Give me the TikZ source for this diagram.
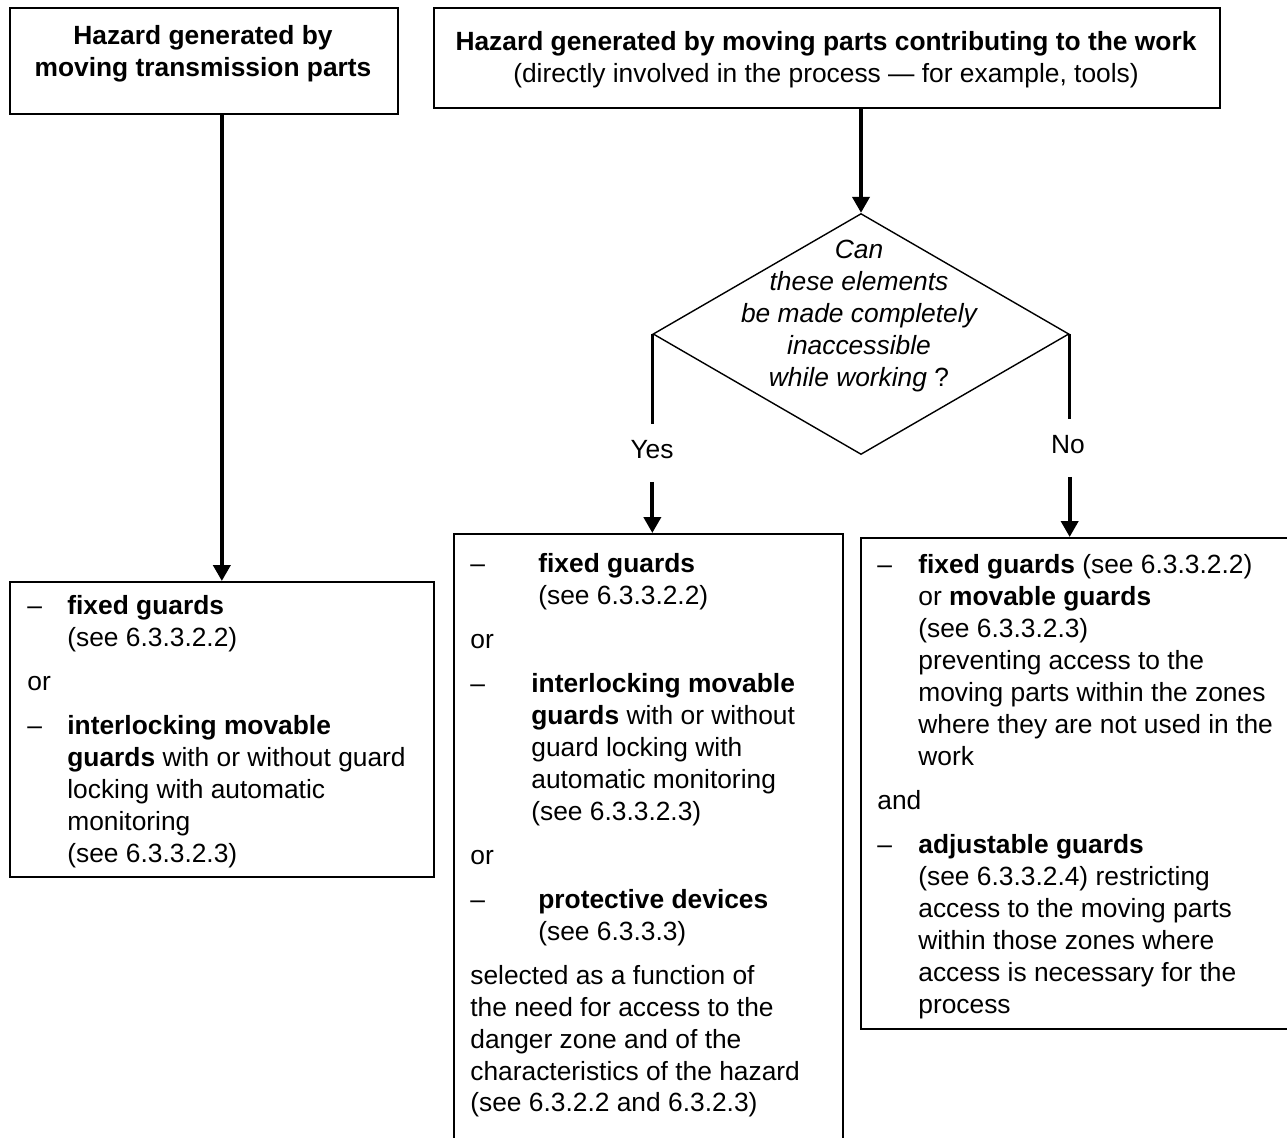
\documentclass[tikz,border=0pt]{standalone}
\usepackage{fontspec}
\setmainfont{Liberation Sans}
\usetikzlibrary{arrows.meta,shapes.geometric}
\newcommand{\bodysize}{\fontsize{15pt}{18.2pt}\selectfont}

\begin{document}
\begin{tikzpicture}[x=0.02cm,y=-0.02cm,
  box/.style={draw,line width=1pt,inner sep=0pt,anchor=north west},
  txt/.style={inner sep=0pt,font=\bodysize},
  lbl/.style={txt,anchor=base,text height=0.67cm,text depth=0.47cm},
  ques/.style={draw,diamond,line width=0.8pt,inner sep=0pt,minimum width=8.32cm,minimum height=4.82cm},
  arr/.style={-{Triangle[length=0.32cm,width=0.34cm]},line width=2.2pt},
  branch/.style={line width=1.8pt}]
\useasboundingbox (0,0) rectangle (1287,1137);
\clip (0,0) rectangle (1287,1137);
% top boxes
\node[box,minimum width=7.76cm,minimum height=2.12cm] (boxA) at (9,7) {};
\node[box,minimum width=15.72cm,minimum height=2cm] (boxB) at (433,7) {};
\node[txt,font=\bodysize\bfseries,anchor=north] (hdrA) at (203,21.6) {\begin{tabular}{@{}c@{}}Hazard generated by\\moving transmission parts\end{tabular}};
\node[txt,anchor=north] (hdrB) at (826,27.6) {\begin{tabular}{@{}c@{}}\textbf{Hazard generated by moving parts contributing to the work}\\(directly involved in the process — for example, tools)\end{tabular}};
% decision
\node[ques] (dia) at (861,334) {};
\node[txt,font=\bodysize\itshape,anchor=north] (qtext) at (859,235.6) {\begin{tabular}{@{}c@{}}Can\\these elements\\be made completely\\inaccessible\\while working\upshape~?\end{tabular}};
\node[lbl] (yes) at (652,458) {Yes};
\node[lbl] (no) at (1068,453) {No};
% result boxes
\node[box,minimum width=8.48cm,minimum height=5.9cm] (boxC) at (9,581) {};
\node[box,minimum width=7.78cm,minimum height=12.6cm] (boxD) at (453,533) {};
\node[box,minimum width=8.8cm,minimum height=9.82cm] (boxE) at (860,537) {};
\node[txt,anchor=north west] (listC) at (27,591.6) {\begin{tabular}{@{}p{0.8cm}@{}l@{}}
–&\textbf{fixed guards}\\
&(see 6.3.3.2.2)\\[0.24cm]
\multicolumn{2}{@{}l}{or}\\[0.24cm]
–&\textbf{interlocking movable}\\
&\textbf{guards} with or without guard\\
&locking with automatic\\
&monitoring\\
&(see 6.3.3.2.3)
\end{tabular}};
\node[txt,anchor=north west] (listD) at (470,549.6) {\begin{tabular}{@{}p{1.22cm}@{}l@{}}
–&\hspace{0.14cm}\textbf{fixed guards}\\
&\hspace{0.14cm}(see 6.3.3.2.2)\\[0.24cm]
\multicolumn{2}{@{}l}{or}\\[0.24cm]
–&\textbf{interlocking movable}\\
&\textbf{guards} with or without\\
&guard locking with\\
&automatic monitoring\\
&(see 6.3.3.2.3)\\[0.24cm]
\multicolumn{2}{@{}l}{or}\\[0.24cm]
–&\hspace{0.14cm}\textbf{protective devices}\\
&\hspace{0.14cm}(see 6.3.3.3)\\[0.24cm]
\multicolumn{2}{@{}l}{selected as a function of}\\
\multicolumn{2}{@{}l}{the need for access to the}\\
\multicolumn{2}{@{}l}{danger zone and of the}\\
\multicolumn{2}{@{}l}{characteristics of the hazard}\\
\multicolumn{2}{@{}l}{(see 6.3.2.2 and 6.3.2.3)}
\end{tabular}};
\node[txt,anchor=north west] (listE) at (877,550.6) {\begin{tabular}{@{}p{0.82cm}@{}l@{}}
–&\textbf{fixed guards} (see 6.3.3.2.2)\\
&or \textbf{movable guards}\\
&(see 6.3.3.2.3)\\
&preventing access to the\\
&moving parts within the zones\\
&where they are not used in the\\
&work\\[0.24cm]
\multicolumn{2}{@{}l}{and}\\[0.24cm]
–&\textbf{adjustable guards}\\
&(see 6.3.3.2.4) restricting\\
&access to the moving parts\\
&within those zones where\\
&access is necessary for the\\
&process
\end{tabular}};
% connectors
\draw[arr] (boxA.south -| boxC.north) -- (boxC.north);
\draw[arr] (boxB.south -| dia.north) -- (dia.north);
\draw[branch] (dia.west) -- (dia.west |- yes.north);
\draw[arr] (dia.west |- yes.south) -- (dia.west |- boxD.north);
\draw[branch] (dia.east) -- (dia.east |- no.north);
\draw[arr] (dia.east |- no.south) -- (dia.east |- boxE.north);
\end{tikzpicture}
\end{document}
